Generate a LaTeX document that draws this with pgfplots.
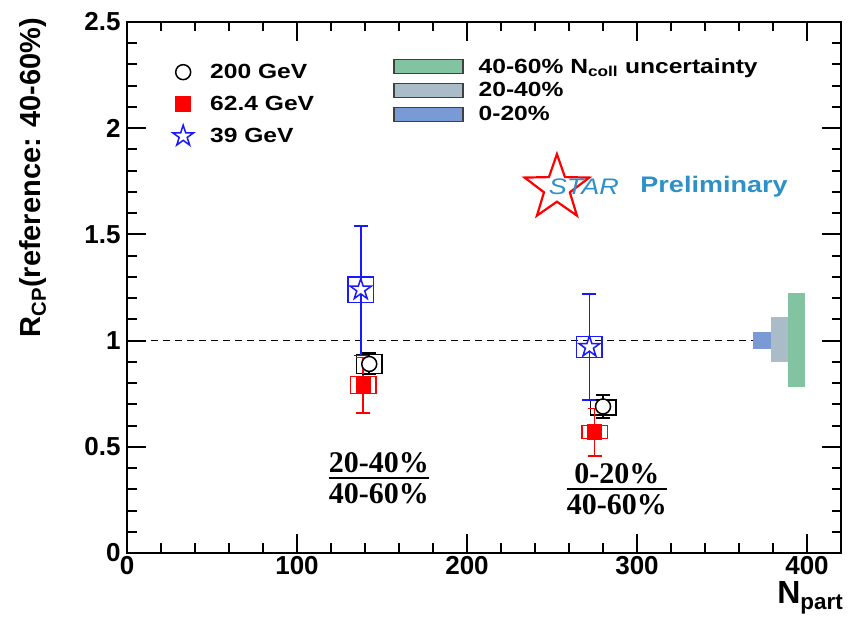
\documentclass[border=0pt]{standalone}
\usepackage{fontspec}
\setmainfont{Liberation Sans}
\newfontfamily\widefont{Liberation Sans}[FakeStretch=1.2]
\newfontfamily\timesfont{Liberation Serif}
\usepackage{pgfplots}
\pgfplotsset{compat=1.18}
\usetikzlibrary{shapes.geometric}

\definecolor{ncgreen}{RGB}{130,196,162}
\definecolor{ncgray}{RGB}{170,188,200}
\definecolor{ncblue}{RGB}{122,154,214}
\definecolor{starblue}{RGB}{45,145,200}
\definecolor{rootblue}{RGB}{25,25,255}
\definecolor{rootred}{RGB}{255,0,0}

% open five-pointed star, ROOT marker 30
\pgfdeclareplotmark{ostar}{%
  \pgfpathmoveto{\pgfpointpolar{90}{\pgfplotmarksize}}%
  \pgfpathlineto{\pgfpointscale{0.382}{\pgfpointpolar{126}{\pgfplotmarksize}}}%
  \pgfpathlineto{\pgfpointpolar{162}{\pgfplotmarksize}}%
  \pgfpathlineto{\pgfpointscale{0.382}{\pgfpointpolar{198}{\pgfplotmarksize}}}%
  \pgfpathlineto{\pgfpointpolar{234}{\pgfplotmarksize}}%
  \pgfpathlineto{\pgfpointscale{0.382}{\pgfpointpolar{270}{\pgfplotmarksize}}}%
  \pgfpathlineto{\pgfpointpolar{306}{\pgfplotmarksize}}%
  \pgfpathlineto{\pgfpointscale{0.382}{\pgfpointpolar{342}{\pgfplotmarksize}}}%
  \pgfpathlineto{\pgfpointpolar{18}{\pgfplotmarksize}}%
  \pgfpathlineto{\pgfpointscale{0.382}{\pgfpointpolar{54}{\pgfplotmarksize}}}%
  \pgfpathclose
  \pgfusepathqfillstroke
}

\newcommand\ratio[2]{\setlength\arrayrulewidth{2.5pt}%
  \begin{tabular}{@{}c@{}}#1\\[-5pt]\hline\noalign{\vskip 3pt}#2\end{tabular}}

\pgfplotsset{
  rcpaxis/.style={scale only axis, width=714pt, height=531pt,
    xmin=0, xmax=420, ymin=0, ymax=2.5, at={(0pt,0pt)}, anchor=south west},
  eb/.style={error bars/.cd, y dir=both, y explicit,
    error bar style={line width=1.8pt},
    error mark options={rotate=90, mark size=7pt, line width=1.8pt}, /pgfplots/.cd},
  s200/.style={black, line width=1.5pt, only marks, mark=*, mark size=7.5pt, mark options={fill=white}},
  s62/.style={rootred, line width=1.5pt, only marks, mark=square*, mark size=7pt},
  s39/.style={rootblue, line width=1.5pt, only marks, mark=ostar, mark size=11pt, mark options={fill=white}},
  sysbox/.style={line width=1.5pt, forget plot},
}

\begin{document}
\begin{tikzpicture}
\path[use as bounding box] (-127pt,-67pt) rectangle (723pt,553pt);

% N_coll uncertainty bands with their own legend
\begin{axis}[rcpaxis, hide axis,
  legend style={draw=none, fill=none, inner sep=0pt, at={(0.3725,0.932)}, anchor=north west,
    font=\widefont\bfseries\fontsize{20.5}{24}\selectfont, row sep=8pt, column sep=15pt,
    nodes={inner sep=0pt}},
  legend cell align=left,
  legend image code/.code={\draw[#1, draw=black!75, line width=1.5pt] (0pt,-7pt) rectangle (69pt,7pt);},
]
\addplot[fill=ncgreen, draw=none] coordinates {(389,0.78) (399,0.78) (399,1.223) (389,1.223)} -- cycle;
\addlegendentry{40-60\% N\textsubscript{coll} uncertainty}
\addplot[fill=ncgray, draw=none] coordinates {(378.6,0.898) (389,0.898) (389,1.11) (378.6,1.11)} -- cycle;
\addlegendentry{20-40\%}
\addplot[fill=ncblue, draw=none] coordinates {(368.4,0.96) (378.6,0.96) (378.6,1.042) (368.4,1.042)} -- cycle;
\addlegendentry{0-20\%}
\end{axis}

\begin{axis}[rcpaxis,
  axis line style={line width=2.5pt},
  xtick={0,100,200,300,400}, ytick={0,0.5,1,1.5,2,2.5},
  minor x tick num=4, minor y tick num=4,
  major tick length=19pt, minor tick length=9.5pt,
  every tick/.style={black, line width=2pt},
  tick label style={font=\fontsize{26}{30}\selectfont\bfseries},
  /pgf/number format/assume math mode=true,
  yticklabel style={xshift=-3pt},
  xlabel={N\textsubscript{part}},
  xlabel style={at={(axis description cs:0.957,0)}, anchor=north, yshift=-28pt,
    inner sep=0pt, font=\fontsize{32}{36}\selectfont\bfseries},
  ylabel={R\textsubscript{CP}(reference: 40-60\%)},
  ylabel style={at={(axis description cs:-0.132,0.707)}, anchor=center,
    inner sep=0pt, font=\fontsize{29}{33}\selectfont\bfseries},
  legend style={draw=none, fill=none, inner sep=0pt, at={(0.0616,0.9266)}, anchor=north west,
    font=\widefont\bfseries\fontsize{20.5}{24}\selectfont, row sep=10pt, column sep=15pt,
    nodes={inner sep=0pt}},
  legend cell align=left,
  legend image code/.code={\path[draw=none, fill=none] (-12pt,-11pt) rectangle (12pt,11pt);
    \draw[#1] plot coordinates {(0pt,0pt)};},
]
\addplot[black, line width=1.5pt, dash pattern=on 7pt off 5pt, forget plot] coordinates {(0,1) (368.4,1)};

% systematic boxes
\addplot[sysbox, rootred] coordinates {(131.5,0.75) (146.5,0.75) (146.5,0.83) (131.5,0.83)} -- cycle;
\addplot[sysbox, rootred] coordinates {(267.5,0.54) (282.5,0.54) (282.5,0.60) (267.5,0.60)} -- cycle;
\addplot[sysbox, black] coordinates {(135,0.845) (150,0.845) (150,0.935) (135,0.935)} -- cycle;
\addplot[sysbox, black] coordinates {(272.5,0.65) (287.5,0.65) (287.5,0.72) (272.5,0.72)} -- cycle;
\addplot[sysbox, rootblue] coordinates {(130,1.18) (145,1.18) (145,1.30) (130,1.30)} -- cycle;
\addplot[sysbox, rootblue] coordinates {(264.5,0.92) (279.5,0.92) (279.5,1.02) (264.5,1.02)} -- cycle;

% points with statistical errors
\addplot[s62, forget plot, eb] coordinates {
  (139,0.79) +- (0,0.13)
  (275,0.57) += (0,0.11) -= (0,0.115)
};
\addplot[s200, forget plot, eb] coordinates {
  (142.5,0.89) +- (0,0.05)
  (280,0.69) +- (0,0.055)
};
\addplot[s39, forget plot, eb] coordinates {
  (137.5,1.24) += (0,0.30) -= (0,0.31)
  (272,0.97) +- (0,0.25)
};

\addlegendimage{s200}
\addlegendentry{200 GeV}
\addlegendimage{s62}
\addlegendentry{62.4 GeV}
\addlegendimage{s39}
\addlegendentry{39 GeV}

\node[font=\timesfont\bfseries\fontsize{30}{31}\selectfont, inner sep=0pt] at (axis cs:148.2,0.335)
  {\ratio{20-40\%}{40-60\%}};
\node[font=\timesfont\bfseries\fontsize{30}{31}\selectfont, inner sep=0pt] at (axis cs:288.2,0.283)
  {\ratio{0-20\%}{40-60\%}};

% STAR Preliminary
\node[star, star points=5, star point ratio=2.5, draw=red, line width=2.2pt,
  minimum size=68pt, inner sep=0pt] at (axis cs:252.9,1.718) {};
\node[text=starblue, font=\widefont\itshape\fontsize{22.5}{26}\selectfont] at (axis cs:268.8,1.723) {STAR};
\node[text=starblue, font=\widefont\bfseries\fontsize{22.5}{26}\selectfont] at (axis cs:345.3,1.723) {Preliminary};
\end{axis}
\end{tikzpicture}
\end{document}
